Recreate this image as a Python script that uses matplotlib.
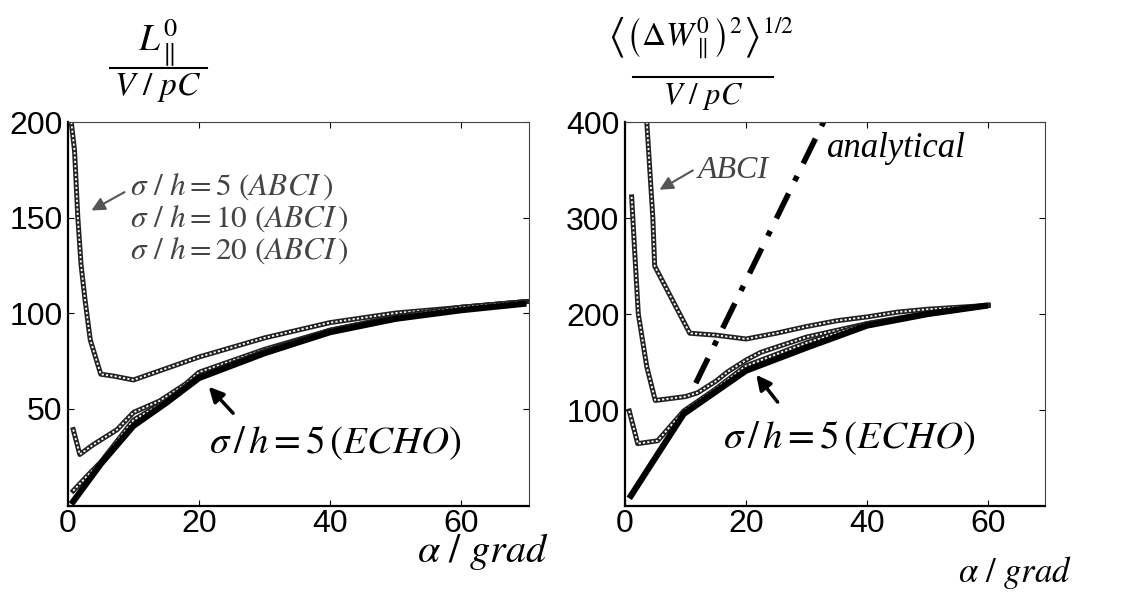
import matplotlib.pyplot as plt
from matplotlib.lines import Line2D

plt.rcParams['mathtext.fontset'] = 'stix'
plt.rcParams['font.family'] = ['Liberation Sans', 'DejaVu Sans']

# left panel: loss factor
alpha_l5 = [0.5, 1, 1.5, 2, 2.6, 3.4, 5, 7, 10, 15, 20, 25, 30, 35, 40, 50, 60, 70]
abci5_l = [200, 185, 150, 125, 107, 86, 68, 67, 65, 71, 77, 82, 87, 91, 95, 100, 103, 106]
alpha_l10 = [0.8, 1.8, 3.8, 7.5, 10, 14, 18, 20, 25, 30, 40, 50, 60, 70]
abci10_l = [39, 26, 31, 39, 48, 54, 63, 69, 75, 81, 91, 98, 103, 106]
alpha_l20 = [0.8, 3, 5, 7.5, 10, 15, 20, 30, 40, 50, 60, 70]
abci20_l = [7, 15, 22, 33, 44, 54, 67, 80, 91, 98, 103, 106]
alpha_echo_l = [0.5, 2, 5, 7.5, 10, 15, 20, 30, 40, 50, 60, 70]
echo_l = [0, 7, 21, 31, 41, 53, 66, 79, 90, 97, 101.5, 105]

# right panel: energy spread
alpha_r5 = [3.6, 4.6, 4.9, 10.7, 15, 20, 25, 30, 35, 40, 45, 50, 55, 60]
abci5_r = [400, 300, 250, 180, 178, 174, 180, 187, 193, 197, 202, 205, 207, 209]
alpha_r10 = [1.1, 1.6, 2.2, 3.6, 5, 7.5, 10, 12, 15, 17, 20, 22.4, 30, 40, 50, 60]
abci10_r = [322, 265, 200, 145, 110, 112, 114, 118, 130, 140, 152, 160, 176, 190, 200, 209]
alpha_r20 = [0.7, 2.1, 5.4, 9.7, 15, 20, 30, 40, 50, 60]
abci20_r = [99, 65, 68, 99, 122, 146, 170, 190, 201, 209]
alpha_echo_r = [0.7, 5.4, 9.7, 20, 30, 40, 50, 60]
echo_r = [8, 54, 96, 141, 165, 188, 200, 209]
alpha_an = [11.7, 33.5]
analytical = [128, 409]

xticks = [0, 20, 40, 60]
yticks_l = [50, 100, 150, 200]
yticks_r = [100, 200, 300, 400]

fig = plt.figure(figsize=(11.37, 6.01), dpi=100)
ax1 = fig.add_axes([0.0598, 0.158, 0.4055, 0.639])
ax2 = fig.add_axes([0.5497, 0.158, 0.3694, 0.639])


def abci(ax, x, y):
    # hatched "chain" look of the ABCI curves
    ax.plot(x, y, color='#222222', lw=3.6, solid_joinstyle='round')
    ax.plot(x, y, color='white', lw=1.3, dashes=(1.2, 1.2))


for ax in (ax1, ax2):
    ax.tick_params(direction='in', top=True, right=True, length=4,
                   labelsize=23, pad=4)
    ax.tick_params(axis='x', pad=2)
    ax.spines['left'].set_linewidth(1.6)
    ax.spines['bottom'].set_linewidth(1.6)
    ax.spines['top'].set_linewidth(0.8)
    ax.spines['right'].set_linewidth(0.8)
    ax.spines['top'].set_color('#444444')
    ax.spines['right'].set_color('#444444')
    ax.set_xticks(xticks)

# left plot
abci(ax1, alpha_l5, abci5_l)
abci(ax1, alpha_l10, abci10_l)
abci(ax1, alpha_l20, abci20_l)
ax1.plot(alpha_echo_l, echo_l, color='black', lw=4.5, solid_capstyle='butt')
ax1.set_xlim(0, 70.4)
ax1.set_ylim(-1, 200)
ax1.set_yticks(yticks_l)

labels = [r'$\sigma\ /\ h = 5\ (ABCI\,)$', r'$\sigma\ /\ h = 10\ (ABCI\,)$',
          r'$\sigma\ /\ h = 20\ (ABCI\,)$']
for i, t in enumerate(labels):
    ax1.text(9.5, 166 - 16.7 * i, t, fontsize=22.5, color='#444444',
             ha='left', va='center')
ax1.annotate('', xy=(3.2, 153), xytext=(9.0, 164),
             arrowprops=dict(arrowstyle='-|>', color='#555555', lw=1.5,
                             mutation_scale=20))
ax1.text(40.8, 32, r'$\sigma\,/\,h = 5\,(ECHO)$', fontsize=28,
         ha='center', va='center')
ax1.annotate('', xy=(21.2, 62.5), xytext=(25.5, 46.5),
             arrowprops=dict(arrowstyle='-|>', color='black', lw=2.5,
                             mutation_scale=22))

# right plot
abci(ax2, alpha_r5, abci5_r)
abci(ax2, alpha_r10, abci10_r)
abci(ax2, alpha_r20, abci20_r)
ax2.plot(alpha_echo_r, echo_r, color='black', lw=4.5, solid_capstyle='butt')
ax2.plot(alpha_an, analytical, color='black', lw=4, dashes=(5, 2.5, 1, 2.5))
ax2.set_xlim(0, 69.4)
ax2.set_ylim(0, 400)
ax2.set_yticks(yticks_r)

ax2.text(12.0, 350, 'ABCI', fontsize=23, family='Liberation Serif',
         style='italic', color='#444444', ha='left', va='center')
ax2.annotate('', xy=(5.3, 328), xytext=(11.6, 351),
             arrowprops=dict(arrowstyle='-|>', color='#555555', lw=1.5,
                             mutation_scale=20))
ax2.text(33.4, 372, 'analytical', fontsize=25, family='Liberation Serif',
         style='italic', ha='left', va='center')
ax2.text(37.1, 71, r'$\sigma\,/\,h = 5\,(ECHO)$', fontsize=28,
         ha='center', va='center')
ax2.annotate('', xy=(21.4, 139), xytext=(25.5, 106),
             arrowprops=dict(arrowstyle='-|>', color='black', lw=2.5,
                             mutation_scale=22))

# axis titles (fractions)
W, H = 1137.0, 601.0
fig.text(158 / W, 1 - 42 / H, r'$L_{\parallel}^{0}$', fontsize=27,
         ha='center', va='center')
fig.add_artist(Line2D([110 / W, 207 / W], [1 - 68 / H, 1 - 68 / H],
                      color='black', lw=1.5))
fig.text(158 / W, 1 - 87 / H, r'$V\ /\ pC$', fontsize=24,
         ha='center', va='center')

fig.text(700 / W, 1 - 38 / H,
         r'$\left\langle\left(\Delta W_{\parallel}^{0}\right)^{2}\right\rangle^{1/2}$',
         fontsize=24, ha='center', va='center')
fig.add_artist(Line2D([633 / W, 773 / W], [1 - 77 / H, 1 - 77 / H],
                      color='black', lw=1.5))
fig.text(703 / W, 1 - 97 / H, r'$V\ /\ pC$', fontsize=22,
         ha='center', va='center')

fig.text(483 / W, 1 - 562 / H, r'$\alpha\ /\ grad$', fontsize=29,
         ha='center', va='baseline')
fig.text(1015 / W, 1 - 582 / H, r'$\alpha\ /\ grad$', fontsize=25,
         ha='center', va='baseline')

fig.savefig('out.png', dpi=100)
